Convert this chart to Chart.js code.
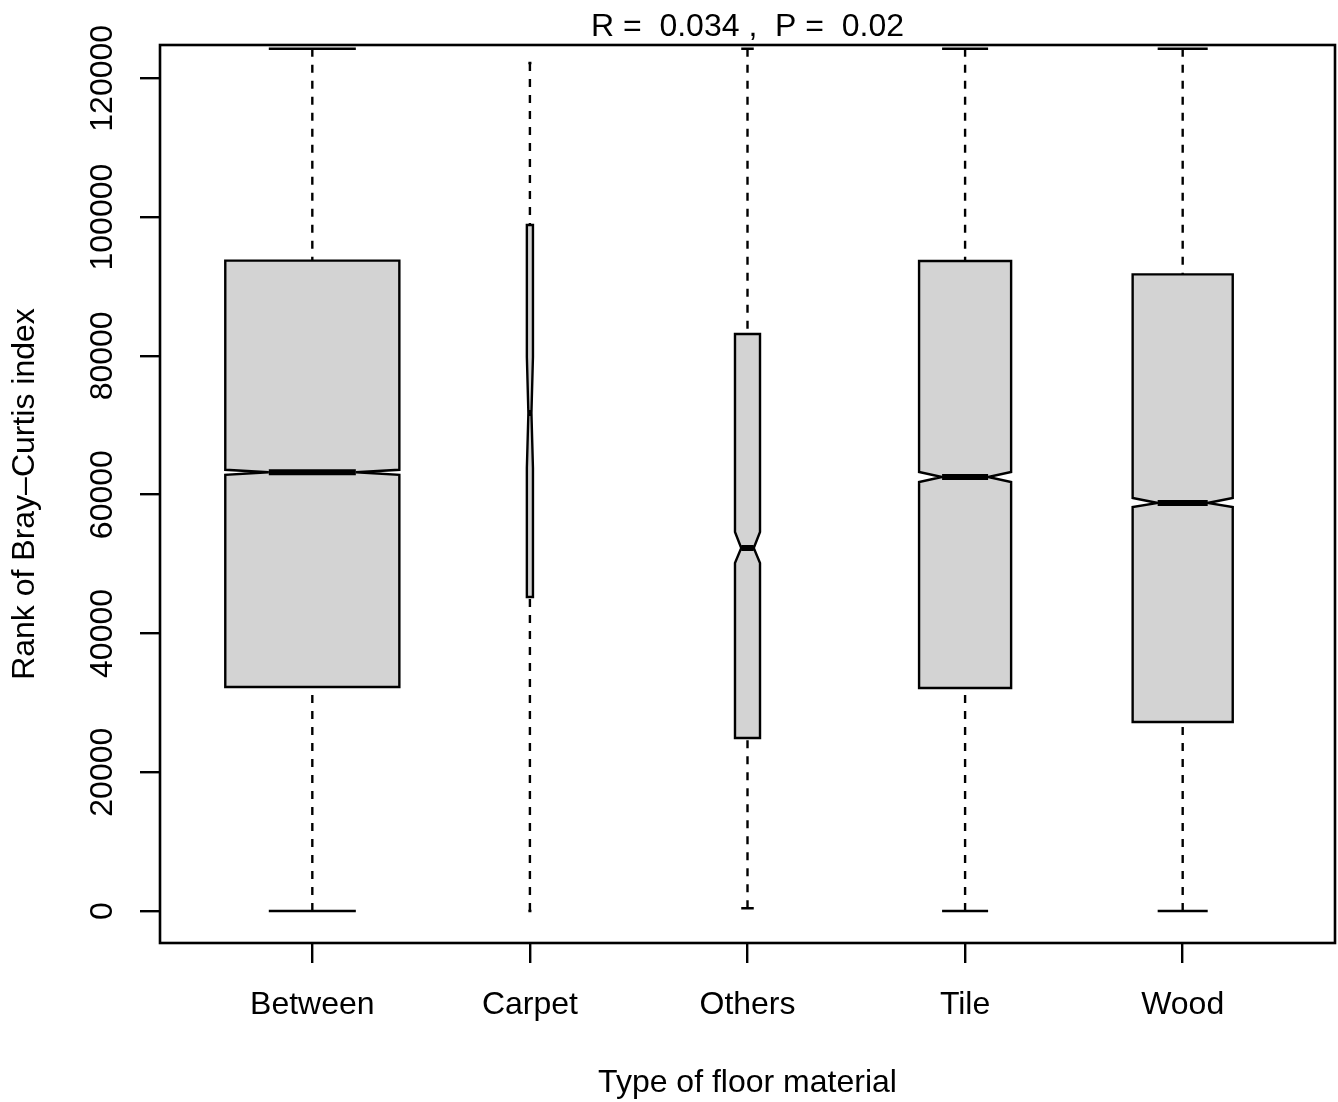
<!DOCTYPE html>
<html>
<head>
<meta charset="utf-8">
<title>Rank of Bray-Curtis index by floor material</title>
<script src="https://cdn.jsdelivr.net/npm/chart.js@4.4.1/dist/chart.umd.min.js"></script>
<style>
  html, body { margin: 0; padding: 0; background: #fff; }
  canvas { display: block; }
</style>
</head>
<body>
<canvas id="boxChart" width="1338" height="1102"></canvas>
<script>
//-----------------DATA------------------------------------------------------
const categories = ['Between', 'Carpet', 'Others', 'Tile', 'Wood'];
const whiskerLow = [0, 0, 400, 0, 0];
const q1 = [32280, 45250, 24930, 32140, 27240];
const median = [63220, 71770, 52310, 62550, 58800];
const q3 = [93720, 98860, 83150, 93670, 91750];
const whiskerHigh = [124250, 122210, 124250, 124250, 124250];
const notchLow = [62860, 63840, 50150, 61830, 58220];
const notchHigh = [63580, 79840, 54620, 63270, 59520];
const yTicks = [0, 20000, 40000, 60000, 80000, 100000, 120000];

const titleText = 'R =  0.034 ,  P =  0.02';
const xTitle = 'Type of floor material';
const yTitle = 'Rank of Bray\u2013Curtis index';

// box widths in x-axis units (varwidth boxes)
const boxWidths = [0.8, 0.028, 0.115, 0.423, 0.46];

const FONT = "'Liberation Sans', Arial, sans-serif";
const LINE = 2.4;

//-----------------BOXPLOT DRAWING-----------------------------
const boxplotPlugin = {
  id: 'boxplot',
  afterDatasetsDraw(chart) {
    const ctx = chart.ctx;
    const xs = chart.scales.x;
    const ys = chart.scales.y;
    ctx.save();
    ctx.strokeStyle = '#000';
    ctx.lineCap = 'butt';
    for (let i = 0; i < categories.length; i++) {
      const cx = xs.getPixelForValue(i + 1);
      const half = xs.getPixelForValue(i + 1 + boxWidths[i] / 2) - cx;
      const yLo = ys.getPixelForValue(whiskerLow[i]);
      const yQ1 = ys.getPixelForValue(q1[i]);
      const yMed = ys.getPixelForValue(median[i]);
      const yQ3 = ys.getPixelForValue(q3[i]);
      const yHi = ys.getPixelForValue(whiskerHigh[i]);
      const yNlo = ys.getPixelForValue(notchLow[i]);
      const yNhi = ys.getPixelForValue(notchHigh[i]);

      // whiskers
      ctx.lineWidth = LINE;
      ctx.setLineDash([8, 8]);
      ctx.beginPath();
      ctx.moveTo(cx, yLo);
      ctx.lineTo(cx, yQ1);
      ctx.moveTo(cx, yHi);
      ctx.lineTo(cx, yQ3);
      ctx.stroke();
      ctx.setLineDash([]);

      // staples
      ctx.beginPath();
      ctx.moveTo(cx - half / 2, yLo);
      ctx.lineTo(cx + half / 2, yLo);
      ctx.moveTo(cx - half / 2, yHi);
      ctx.lineTo(cx + half / 2, yHi);
      ctx.stroke();

      // notched box
      ctx.beginPath();
      ctx.moveTo(cx - half, yQ1);
      ctx.lineTo(cx - half, yNlo);
      ctx.lineTo(cx - half / 2, yMed);
      ctx.lineTo(cx - half, yNhi);
      ctx.lineTo(cx - half, yQ3);
      ctx.lineTo(cx + half, yQ3);
      ctx.lineTo(cx + half, yNhi);
      ctx.lineTo(cx + half / 2, yMed);
      ctx.lineTo(cx + half, yNlo);
      ctx.lineTo(cx + half, yQ1);
      ctx.closePath();
      ctx.fillStyle = '#d3d3d3';
      ctx.fill();
      ctx.stroke();

      // median
      ctx.lineWidth = 6;
      ctx.beginPath();
      ctx.moveTo(cx - half / 2, yMed);
      ctx.lineTo(cx + half / 2, yMed);
      ctx.stroke();
    }
    ctx.restore();
  },
  afterDraw(chart) {
    const ctx = chart.ctx;
    const area = chart.chartArea;
    const ys = chart.scales.y;
    ctx.save();
    // plot frame
    ctx.strokeStyle = '#000';
    ctx.lineWidth = 2.6;
    ctx.strokeRect(area.left, area.top, area.right - area.left, area.bottom - area.top);

    // title above the frame
    ctx.fillStyle = '#000';
    ctx.font = '32px ' + FONT;
    ctx.textAlign = 'center';
    ctx.textBaseline = 'middle';
    ctx.fillText(titleText, (area.left + area.right) / 2, 27);

    // y tick labels, vertical like R's las = 0
    ys.ticks.forEach(function(t) {
      ctx.save();
      ctx.translate(103, ys.getPixelForValue(t.value));
      ctx.rotate(-Math.PI / 2);
      ctx.fillText(String(t.value), 0, 0);
      ctx.restore();
    });
    ctx.restore();
  }
};

//-----------------CREATE CHART-----------------------------
const boxChart = new Chart(document.getElementById('boxChart'), {
  type: 'scatter',
  data: {
    datasets: [{
      data: [],
      pointRadius: 0
    }]
  },
  options: {
    responsive: false,
    animation: false,
    devicePixelRatio: 1,
    layout: {
      padding: { top: 45, right: 3, left: 0, bottom: 0 }
    },
    plugins: {
      legend: { display: false },
      tooltip: { enabled: false }
    },
    scales: {
      x: {
        type: 'linear',
        min: 0.3,
        max: 5.7,
        afterBuildTicks: function(scale) {
          scale.ticks = categories.map((c, i) => ({ value: i + 1 }));
        },
        afterFit: function(scale) {
          scale.height = 159;
        },
        ticks: {
          autoSkip: false,
          maxRotation: 0,
          padding: 23,
          color: '#000',
          font: { family: FONT, size: 32 },
          callback: function(value) {
            return categories[value - 1];
          }
        },
        grid: {
          drawOnChartArea: false,
          drawTicks: true,
          tickLength: 20,
          color: '#000',
          lineWidth: LINE
        },
        border: { display: false },
        title: {
          display: true,
          text: xTitle,
          color: '#000',
          font: { family: FONT, size: 32 },
          padding: { top: 0, bottom: 0 }
        }
      },
      y: {
        type: 'linear',
        min: -4612,
        max: 124800,
        afterBuildTicks: function(scale) {
          scale.ticks = yTicks.map(v => ({ value: v }));
        },
        afterFit: function(scale) {
          scale.width = 160;
        },
        ticks: {
          color: 'rgba(0,0,0,0)',
          font: { family: FONT, size: 32 }
        },
        grid: {
          drawOnChartArea: false,
          drawTicks: true,
          tickLength: 20,
          color: '#000',
          lineWidth: LINE
        },
        border: { display: false },
        title: {
          display: true,
          text: yTitle,
          color: '#000',
          font: { family: FONT, size: 32 },
          padding: { top: 6, bottom: 0 }
        }
      }
    }
  },
  plugins: [boxplotPlugin]
});
</script>
</body>
</html>
